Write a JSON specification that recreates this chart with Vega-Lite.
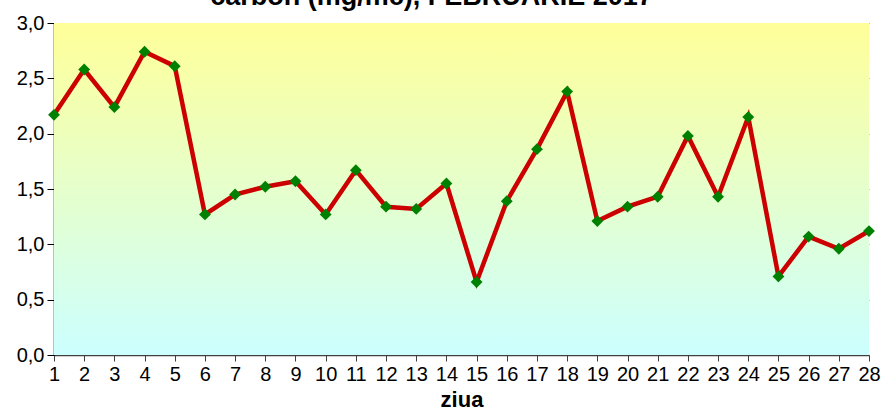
{
  "$schema": "https://vega.github.io/schema/vega-lite/v6.json",
  "width": 881,
  "height": 414,
  "autosize": {"type": "fit", "contains": "padding"},
  "padding": {"left": 16, "top": -17, "right": 0, "bottom": 4},
  "background": "white",
  "title": {
    "text": "carbon (mg/mc), FEBRUARIE 2017",
    "font": "Liberation Sans",
    "fontSize": 27,
    "fontWeight": "bold",
    "color": "black",
    "anchor": "middle",
    "dx": -30,
    "offset": 2
  },
  "config": {
    "view": {"stroke": null},
    "font": "Liberation Sans"
  },
  "data": {
    "values": [
      {"ziua": 1, "v": 2.17}, {"ziua": 2, "v": 2.58}, {"ziua": 3, "v": 2.24},
      {"ziua": 4, "v": 2.74}, {"ziua": 5, "v": 2.61}, {"ziua": 6, "v": 1.27},
      {"ziua": 7, "v": 1.45}, {"ziua": 8, "v": 1.52}, {"ziua": 9, "v": 1.57},
      {"ziua": 10, "v": 1.27}, {"ziua": 11, "v": 1.67}, {"ziua": 12, "v": 1.34},
      {"ziua": 13, "v": 1.32}, {"ziua": 14, "v": 1.55}, {"ziua": 15, "v": 0.66},
      {"ziua": 16, "v": 1.39}, {"ziua": 17, "v": 1.86}, {"ziua": 18, "v": 2.38},
      {"ziua": 19, "v": 1.21}, {"ziua": 20, "v": 1.34}, {"ziua": 21, "v": 1.43},
      {"ziua": 22, "v": 1.98}, {"ziua": 23, "v": 1.43}, {"ziua": 24, "v": 2.15},
      {"ziua": 25, "v": 0.71}, {"ziua": 26, "v": 1.07}, {"ziua": 27, "v": 0.96},
      {"ziua": 28, "v": 1.12}
    ]
  },
  "encoding": {
    "x": {
      "field": "ziua", "type": "quantitative",
      "scale": {"domain": [1, 28], "nice": false, "zero": false},
      "axis": {
        "title": "ziua", "titleFontSize": 22, "titleFontWeight": "bold", "titleColor": "black",
        "titlePadding": 5,
        "values": [1,2,3,4,5,6,7,8,9,10,11,12,13,14,15,16,17,18,19,20,21,22,23,24,25,26,27,28],
        "grid": false, "labelFontSize": 20, "labelColor": "black", "labelFlush": false,
        "labelPadding": 3, "tickSize": 6, "tickColor": "#404040", "domainColor": "#404040",
        "domainWidth": 1.5
      }
    },
    "y": {
      "field": "v", "type": "quantitative",
      "scale": {"domain": [0, 3], "nice": false},
      "axis": {
        "title": null, "values": [0, 0.5, 1, 1.5, 2, 2.5, 3],
        "labelExpr": "replace(format(datum.value, '.1f'), '.', ',')",
        "labelFontSize": 20, "labelColor": "black", "labelPadding": 3,
        "tickSize": 7, "tickColor": "black", "domainColor": "black", "domainWidth": 1.5,
        "gridColor": "#999999", "gridWidth": 1.2
      }
    }
  },
  "layer": [
    {
      "mark": {
        "type": "rect",
        "color": {
          "gradient": "linear", "x1": 0, "y1": 0, "x2": 0, "y2": 1,
          "stops": [
            {"offset": 0, "color": "#FFFF99"},
            {"offset": 1, "color": "#CCFFFF"}
          ]
        }
      },
      "encoding": {
        "x": {"datum": 1, "type": "quantitative"},
        "x2": {"datum": 28},
        "y": {"datum": 3, "type": "quantitative"},
        "y2": {"datum": 0}
      }
    },
    {
      "mark": {"type": "line", "color": "#CC0000", "strokeWidth": 4.5}
    },
    {
      "mark": {"type": "point", "shape": "diamond", "filled": true, "color": "#008000", "size": 140, "opacity": 1}
    }
  ]
}
